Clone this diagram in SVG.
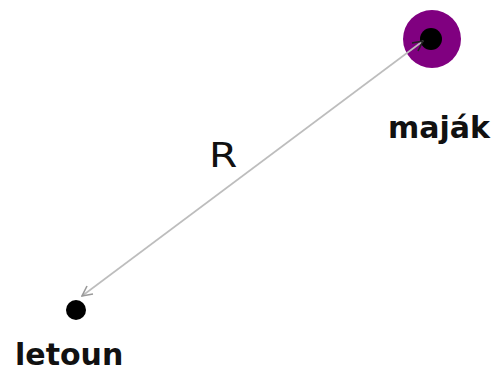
<svg xmlns="http://www.w3.org/2000/svg" width="493" height="374" viewBox="0 0 493 374">
  <style>
    .lbl { font-family: "DejaVu Sans", "Liberation Sans", sans-serif; font-weight: bold; font-size: 30px; fill: #111; }
    .r { font-family: "DejaVu Sans", "Liberation Sans", sans-serif; font-size: 34px; fill: #111; }
    .conn { stroke: #bdbdbd; stroke-width: 1.6; fill: none; }
  </style>
  <defs>
    <marker id="ahGray" viewBox="0 0 12 12" refX="11" refY="6" markerWidth="12" markerHeight="12" markerUnits="userSpaceOnUse" orient="auto">
      <path d="M1,1 L11,6 L1,11" fill="none" stroke="#9a9a9a" stroke-width="1.6"/>
    </marker>
    <marker id="ahDark" viewBox="0 0 12 12" refX="1" refY="6" markerWidth="12" markerHeight="12" markerUnits="userSpaceOnUse" orient="auto">
      <path d="M11,1 L1,6 L11,11" fill="none" stroke="#222" stroke-width="1.6"/>
    </marker>
  </defs>
  <rect width="493" height="374" fill="#fff"/>
  <g id="majak">
    <circle cx="432" cy="39" r="29" fill="#800080"/>
    <circle cx="431" cy="39" r="11" fill="#000"/>
    <text class="lbl" x="388" y="138">maják</text>
  </g>
  <g id="letoun">
    <circle cx="76" cy="310" r="10" fill="#000"/>
    <text class="lbl" x="15" y="365">letoun</text>
  </g>
  <g id="label-R">
    <text class="r" transform="translate(209,167) scale(1.2,1)" x="0" y="0">R</text>
  </g>
  <g id="connectors">
    <line class="conn" x1="423" y1="41" x2="82" y2="296" marker-start="url(#ahDark)" marker-end="url(#ahGray)"/>
  </g>
</svg>
